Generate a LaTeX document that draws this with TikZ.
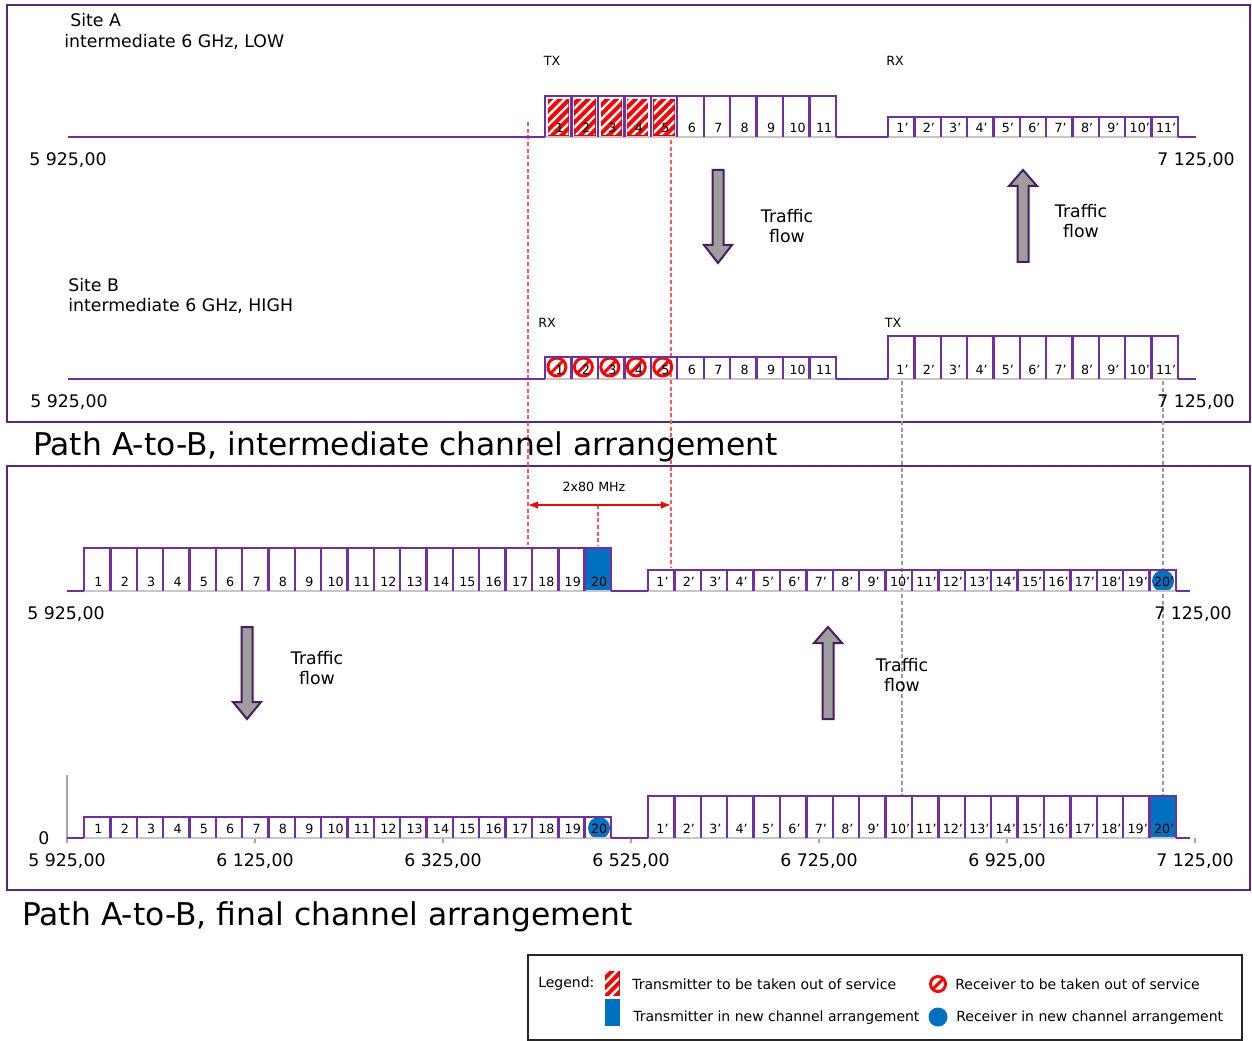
\documentclass[tikz,border=0pt]{standalone}
\usepackage{fontspec}
\setmainfont{DejaVu Sans}
\usetikzlibrary{arrows.meta,patterns.meta}

\begin{document}
\begin{tikzpicture}[
  x=.75pt, y=-.75pt,
  >=Latex,
  panel/.style={draw=framepurple, line width=2.2pt},
  chan/.style={draw=chpurple, line width=1.8pt},
  slotfloor/.style={draw=black!22, line width=.9pt},
  chnum/.style={font=\fontsize{9.5}{10}\selectfont, inner sep=0pt},
  lbl/.style={font=\fontsize{13}{15.5}\selectfont, inner sep=0pt, align=center},
  sitelbl/.style={font=\fontsize{13}{15.5}\selectfont, inner sep=0pt, anchor=west},
  trx/.style={font=\fontsize{9.5}{10}\selectfont, inner sep=0pt},
  bigtitle/.style={font=\fontsize{23.5}{26}\selectfont, inner sep=0pt, anchor=west},
  legtext/.style={font=\fontsize{10.5}{12}\selectfont, inner sep=0pt, anchor=west},
  guide/.style={dash pattern=on 3pt off 2pt, line width=.9pt},
  flow/.style={draw=flowpurple, fill=black!38, line width=1.5pt, line join=miter},
  txout/.style={fill=red, draw=red!85!black, line width=.5pt},
  hatch/.style={pattern={Lines[angle=45,distance=5pt,line width=1.8pt]}, pattern color=white},
  rxout/.style={draw=red, line width=2.2pt},
  newch/.style={fill=newblue}
]

\definecolor{framepurple}{RGB}{88,40,118}
\definecolor{chpurple}{RGB}{112,48,160}
\definecolor{flowpurple}{RGB}{72,30,96}
\definecolor{newblue}{RGB}{0,112,192}

\useasboundingbox (0,0) rectangle (1252,1041);
\fill[white] (0,0) rectangle (1252,1041);

% panel frames
\draw[panel] (7,5) rectangle (1250,422);
\draw[panel] (7,466) rectangle (1250,890);

% guide lines for the 2x80 MHz gap and the receivers
\draw[guide,red!65] (528,122) -- (528,545);
\draw[guide,red!65] (671,140) -- (671,567);
\draw[guide,red!65] (598,505) -- (598,546);
\draw[guide,black!40] (902,381) -- (902,795);
\draw[guide,black!40] (1163,381) -- (1163,795);
\coordinate (lo80) at (528,505);
\coordinate (hi80) at (671,505);
\draw[<->,red,line width=1pt] (lo80) -- (hi80);
\node[trx] (gap) at (594,487) {2x80 MHz};

% axis of the last plot
\draw[black!35,line width=.8pt] (67,775) -- (67,838) -- (1190,838);
\foreach \k in {0,...,6}
  \draw[black!35,line width=.8pt] ({67+188*\k},838) -- ({67+188*\k},843);

% marks: transmitters and receivers out of service
\foreach \i in {0,...,4}{
  \draw[txout] ({545+\i*26.45+3},99) rectangle ({545+(\i+1)*26.45-3},135);
  \fill[hatch] ({545+\i*26.45+3},99) rectangle ({545+(\i+1)*26.45-3},135);
  \draw[rxout] ({545+(\i+.45)*26.45},367) circle (9);
  \draw[rxout] ({545+(\i+.45)*26.45-6.5},373.5) -- ({545+(\i+.45)*26.45+6.5},360.5);
}

% marks: new channel arrangement
\fill[newch] (585.7,548) rectangle (611,591);
\fill[newch] (1149.6,796) rectangle (1176,838);
\fill[newch] (1163,581) circle (11);
\fill[newch] (599,828) circle (11);

% baselines
\draw[chan] (68,137) -- (545,137) (836,137) -- (888,137) (1178,137) -- (1196,137);
\draw[chan] (68,379) -- (545,379) (836,379) -- (888,379) (1178,379) -- (1196,379);
\draw[chan] (67,591) -- (84,591) (611,591) -- (648,591) (1176,591) -- (1190,591);
\draw[chan] (67,838) -- (84,838) (611,838) -- (648,838) (1176,838) -- (1190,838);

% channel blocks: left/right/base/top/count/suffix
\foreach \xa/\xb/\yb/\yt/\n/\pr in {
    545/836/137/96/11/{}, 888/1178/137/117/11/',
    545/836/379/357/11/{}, 888/1178/379/336/11/',
    84/611/591/548/20/{}, 648/1176/591/570/20/',
    84/611/838/817/20/{}, 648/1176/838/796/20/'}{
  \pgfmathsetmacro\w{(\xb-\xa)/\n}
  \pgfmathtruncatemacro\m{\n-1}
  \draw[slotfloor] (\xa,\yb) -- (\xb,\yb);
  \foreach \i in {1,...,\m}
    \draw[chan] ({\xa+\i*\w},\yb) -- ({\xa+\i*\w},\yt);
  \draw[chan] (\xa,\yb) -- (\xa,\yt) -- (\xb,\yt) -- (\xb,\yb);
  \foreach \i in {1,...,\n}
    \node[chnum] at ({\xa+(\i-.45)*\w},\yb-9) {\i\pr};
}

% traffic flow arrows
\foreach \cx/\ys/\yh/\yp in {718/170/245/263, 1023/262/186/170,
                             247/627/702/719, 828/719/643/627}
  \draw[flow] (\cx-5.5,\ys) -- (\cx+5.5,\ys) -- (\cx+5.5,\yh) -- (\cx+14,\yh)
    -- (\cx,\yp) -- (\cx-14,\yh) -- (\cx-5.5,\yh) -- cycle;

% Site A
\node[sitelbl] (siteA) at (70,20) {Site A};
\node[sitelbl] (bandA) at (64,42) {intermediate 6 GHz, LOW};
\node[trx] (txA) at (552,61) {TX};
\node[trx] (rxA) at (895,61) {RX};
\node[lbl] (loA) at (68,160) {5 925,00};
\node[lbl] (hiA) at (1196,160) {7 125,00};
\node[lbl] (flowAB) at (787,226) {Traffic\\flow};
\node[lbl] (flowBA) at (1081,221) {Traffic\\flow};

% Site B
\node[sitelbl] (siteB) at (68,285) {Site B};
\node[sitelbl] (bandB) at (68,306) {intermediate 6 GHz, HIGH};
\node[trx] (rxB) at (547,323) {RX};
\node[trx] (txB) at (893,323) {TX};
\node[lbl] (loB) at (69,402) {5 925,00};
\node[lbl] (hiB) at (1196,402) {7 125,00};

\node[bigtitle] (title1) at (33,447) {Path A-to-B, intermediate channel arrangement};

% final arrangement
\node[lbl] (loC) at (66,614) {5 925,00};
\node[lbl] (hiC) at (1193,614) {7 125,00};
\node[lbl] (flowC) at (317,668) {Traffic\\flow};
\node[lbl] (flowD) at (902,675) {Traffic\\flow};
\node[lbl] (zero) at (44,838) {0};
\foreach \k/\f in {0/5 925,1/6 125,2/6 325,3/6 525,4/6 725,5/6 925,6/7 125}
  \node[lbl] (tick\k) at ({67+188*\k},861) {\f,00};

\node[bigtitle] (title2) at (22,917) {Path A-to-B, final channel arrangement};

% legend
\draw[black!85,line width=1.5pt] (528,955) rectangle (1242,1040);
\node[legtext] (leg) at (538,984) {Legend:};
\draw[txout] (605,971) rectangle (619,995);
\fill[hatch] (605,971) rectangle (619,995);
\node[legtext] (legtx) at (632,984) {Transmitter to be taken out of service};
\draw[rxout] (938,984) circle (7.5);
\draw[rxout] (933,989) -- (943,979);
\node[legtext] (legrx) at (955,984) {Receiver to be taken out of service};
\fill[newch] (605,999) rectangle (620,1026);
\node[legtext] (legnewtx) at (633,1018) {Transmitter in new channel arrangement};
\fill[newch] (938,1017) circle (9.5);
\node[legtext] (legnewrx) at (956,1018) {Receiver in new channel arrangement};

\end{tikzpicture}
\end{document}
